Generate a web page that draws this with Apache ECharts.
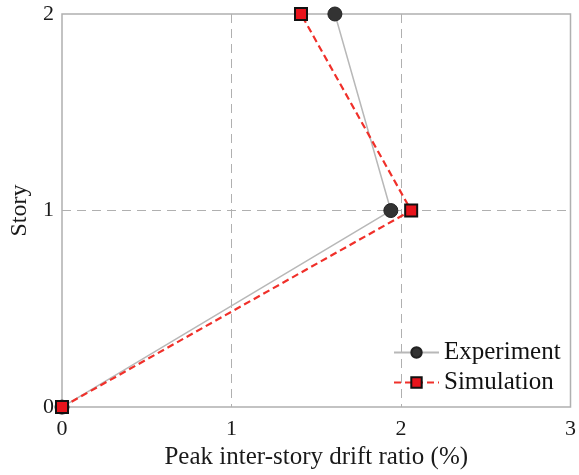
<!DOCTYPE html>
<html><head><meta charset="utf-8">
<script src="https://cdn.jsdelivr.net/npm/echarts@6/dist/echarts.min.js"></script>
<style>html,body{margin:0;padding:0;background:#fff}#c{width:579px;height:475px}</style>
</head><body><div id="c"></div>
<script>
const stories = [0, 1, 2];
const experiment = [0, 1.94, 1.61];
const simulation = [0, 2.06, 1.41];
const xTicks = [0, 1, 2, 3];
const yTicks = [0, 1, 2];

const font = 'Liberation Serif';
const chart = echarts.init(document.getElementById('c'));
chart.setOption({
  animation: false,
  grid: {left: 61, top: 14, right: 4, bottom: 65, show: true, borderColor: '#b0b0b0', borderWidth: 1.5, backgroundColor: 'transparent'},
  xAxis: {
    type: 'value', min: 0, max: 3, interval: 1,
    name: 'Peak inter-story drift ratio (%)', nameLocation: 'middle', nameGap: 35,
    nameTextStyle: {fontFamily: font, fontSize: 25, color: '#1a1a1a'},
    axisLine: {show: false}, axisTick: {show: false},
    axisLabel: {fontFamily: font, fontSize: 22, color: '#1a1a1a', margin: 11},
    splitLine: {show: true, showMinLine: false, showMaxLine: false, lineStyle: {type: [9, 6], color: '#b0b0b0', width: 1}}
  },
  yAxis: {
    type: 'value', min: 0, max: 2, interval: 1,
    name: 'Story', nameLocation: 'middle', nameGap: 30,
    nameTextStyle: {fontFamily: font, fontSize: 24, color: '#1a1a1a'},
    axisLine: {show: false}, axisTick: {show: false},
    axisLabel: {fontFamily: font, fontSize: 22, color: '#1a1a1a', margin: 8},
    splitLine: {show: true, showMinLine: false, showMaxLine: false, lineStyle: {type: [9, 6], color: '#b0b0b0', width: 1}}
  },
  legend: {
    orient: 'vertical', left: 393, top: 340, padding: 0, itemGap: 5, itemWidth: 45, itemHeight: 13,
    textStyle: {fontFamily: font, fontSize: 25, color: '#111'},
    data: ['Experiment', 'Simulation']
  },
  series: [
    {
      name: 'Experiment', type: 'line',
      data: experiment.map((v, i) => [v, stories[i]]),
      symbol: 'circle', symbolSize: 14,
      itemStyle: {color: '#333', borderColor: '#222', borderWidth: 1},
      lineStyle: {color: '#b8b8b8', width: 1.5},
      z: 3
    },
    {
      name: 'Simulation', type: 'line',
      data: simulation.map((v, i) => [v, stories[i]]),
      symbol: 'rect', symbolSize: 12,
      itemStyle: {color: '#e8141c', borderColor: '#111', borderWidth: 2},
      lineStyle: {color: '#f0302a', width: 2.2, type: [7, 4]},
      z: 4
    }
  ]
});
</script></body></html>
